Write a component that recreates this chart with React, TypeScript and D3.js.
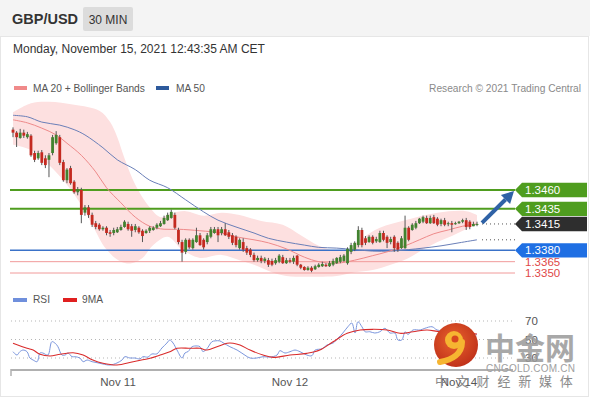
import React from 'react';
import * as d3 from 'd3';

// ---------- DATA ----------
const OPEN = [1.3540,1.3536,1.3529,1.3536,1.3530,1.3532,1.3509,1.3502,1.3510,1.3502,
1.3500,1.3509,1.3522,1.3530,1.3497,1.3473,1.3489,1.3471,1.3457,1.3460,
1.3430,1.3437,1.3427,1.3416,1.3414,1.3408,1.3410,1.3404,1.3403,1.3404,
1.3407,1.3411,1.3415,1.3412,1.3407,1.3410,1.3406,1.3403,1.3406,1.3407,
1.3410,1.3412,1.3415,1.3420,1.3423,1.3427,1.3407,1.3391,1.3378,1.3394,
1.3383,1.3391,1.3400,1.3394,1.3391,1.3398,1.3403,1.3408,1.3403,1.3408,
1.3404,1.3400,1.3398,1.3383,1.3391,1.3383,1.3381,1.3374,1.3367,1.3370,
1.3366,1.3367,1.3366,1.3363,1.3365,1.3371,1.3363,1.3367,1.3365,1.3373,
1.3361,1.3358,1.3354,1.3357,1.3355,1.3358,1.3359,1.3361,1.3359,1.3361,
1.3363,1.3365,1.3366,1.3363,1.3378,1.3381,1.3387,1.3407,1.3396,1.3391,
1.3398,1.3392,1.3391,1.3403,1.3398,1.3391,1.3398,1.3390,1.3383,1.3383,
1.3410,1.3407,1.3410,1.3416,1.3418,1.3423,1.3416,1.3424,1.3422,1.3415,
1.3420,1.3415,1.3416,1.3415,1.3416,1.3418,1.3420,1.3418,1.3412,1.3414];
const HIGH = [1.3543,1.3538,1.3541,1.3540,1.3537,1.3534,1.3512,1.3512,1.3513,1.3506,
1.3509,1.3533,1.3538,1.3533,1.3500,1.3489,1.3492,1.3473,1.3464,1.3463,
1.3440,1.3440,1.3430,1.3419,1.3416,1.3412,1.3412,1.3407,1.3410,1.3411,
1.3414,1.3420,1.3418,1.3415,1.3415,1.3412,1.3408,1.3408,1.3412,1.3412,
1.3416,1.3419,1.3426,1.3430,1.3434,1.3430,1.3410,1.3394,1.3396,1.3396,
1.3396,1.3410,1.3403,1.3396,1.3403,1.3411,1.3411,1.3411,1.3411,1.3416,
1.3407,1.3403,1.3400,1.3396,1.3396,1.3386,1.3383,1.3377,1.3373,1.3373,
1.3371,1.3370,1.3369,1.3370,1.3375,1.3374,1.3370,1.3370,1.3373,1.3374,
1.3362,1.3359,1.3359,1.3359,1.3361,1.3363,1.3365,1.3363,1.3366,1.3369,
1.3371,1.3374,1.3375,1.3384,1.3390,1.3392,1.3412,1.3410,1.3399,1.3400,
1.3400,1.3398,1.3406,1.3406,1.3400,1.3398,1.3400,1.3392,1.3399,1.3426,
1.3412,1.3416,1.3419,1.3423,1.3426,1.3426,1.3426,1.3427,1.3424,1.3422,
1.3423,1.3418,1.3419,1.3418,1.3419,1.3422,1.3423,1.3420,1.3418,1.3418];
const LOW = [1.3530,1.3517,1.3528,1.3529,1.3528,1.3504,1.3497,1.3500,1.3493,1.3489,
1.3477,1.3506,1.3520,1.3493,1.3471,1.3469,1.3467,1.3455,1.3453,1.3416,
1.3426,1.3423,1.3411,1.3408,1.3406,1.3406,1.3400,1.3398,1.3400,1.3403,
1.3406,1.3410,1.3406,1.3398,1.3404,1.3402,1.3391,1.3402,1.3403,1.3406,
1.3408,1.3411,1.3414,1.3419,1.3422,1.3408,1.3388,1.3365,1.3375,1.3382,
1.3381,1.3390,1.3386,1.3381,1.3388,1.3396,1.3402,1.3391,1.3400,1.3399,
1.3395,1.3387,1.3384,1.3381,1.3378,1.3374,1.3371,1.3365,1.3365,1.3363,
1.3363,1.3358,1.3359,1.3361,1.3363,1.3362,1.3362,1.3363,1.3362,1.3359,
1.3355,1.3353,1.3353,1.3351,1.3354,1.3357,1.3358,1.3358,1.3358,1.3359,
1.3362,1.3363,1.3365,1.3361,1.3375,1.3379,1.3384,1.3384,1.3387,1.3390,
1.3388,1.3390,1.3390,1.3392,1.3383,1.3388,1.3378,1.3378,1.3382,1.3382,
1.3392,1.3406,1.3408,1.3415,1.3416,1.3415,1.3415,1.3415,1.3412,1.3412,
1.3412,1.3412,1.3404,1.3414,1.3415,1.3416,1.3407,1.3408,1.3412,1.3412];
const CLOSE = [1.3536,1.3530,1.3536,1.3532,1.3534,1.3506,1.3500,1.3509,1.3496,1.3493,
1.3506,1.3530,1.3533,1.3496,1.3473,1.3487,1.3469,1.3457,1.3461,1.3427,
1.3437,1.3427,1.3414,1.3411,1.3408,1.3410,1.3403,1.3402,1.3407,1.3408,
1.3411,1.3418,1.3408,1.3406,1.3412,1.3404,1.3399,1.3406,1.3410,1.3410,
1.3414,1.3416,1.3423,1.3427,1.3431,1.3410,1.3391,1.3377,1.3394,1.3384,
1.3394,1.3400,1.3387,1.3384,1.3400,1.3408,1.3408,1.3400,1.3408,1.3400,
1.3398,1.3390,1.3387,1.3394,1.3381,1.3377,1.3374,1.3367,1.3370,1.3366,
1.3369,1.3361,1.3361,1.3367,1.3373,1.3363,1.3367,1.3365,1.3370,1.3361,
1.3357,1.3354,1.3357,1.3353,1.3359,1.3361,1.3362,1.3359,1.3363,1.3366,
1.3370,1.3371,1.3373,1.3382,1.3387,1.3390,1.3407,1.3387,1.3390,1.3398,
1.3390,1.3395,1.3403,1.3394,1.3390,1.3395,1.3383,1.3381,1.3396,1.3410,
1.3394,1.3414,1.3416,1.3422,1.3424,1.3416,1.3423,1.3416,1.3414,1.3420,
1.3414,1.3416,1.3414,1.3416,1.3418,1.3420,1.3411,1.3411,1.3415,1.3415];

const MA20_IDX = [0,4,8,12,15,19,23,26,30,34,38,42,46,52,58,62,67,71,76,81,85,90,95,100,104,109,113,117,121,125,129];
const MA20 = [1.3553,1.3549,1.3542,1.3533,1.3522,1.3506,1.3484,1.3463,1.3443,1.3424,1.3412,1.3408,1.3408,1.3406,1.3403,1.3398,1.3394,1.3390,1.3382,1.3371,1.3365,1.3363,1.3367,1.3373,1.3378,1.3386,1.3394,1.3402,1.3407,1.3412,1.3415];

const BB_UP_IDX = [0,5,10,17,24,27,29,31,34,38,41,44,48,53,58,63,69,75,80,85,90,93,97,102,109,118,126,129];
const BB_UP = [1.3563,1.3575,1.3577,1.3573,1.3565,1.3550,1.3530,1.3502,1.3467,1.3437,1.3424,1.3429,1.3432,1.3426,1.3430,1.3427,1.3419,1.3414,1.3400,1.3386,1.3379,1.3381,1.3396,1.3410,1.3420,1.3430,1.3432,1.3427];
const BB_LO_IDX = [0,5,10,15,19,22,26,30,33,36,39,43,47,52,58,63,67,72,76,81,85,90,95,100,105,110,114,118,122,126,129];
const BB_LO = [1.3520,1.3513,1.3493,1.3467,1.3440,1.3414,1.3381,1.3365,1.3363,1.3370,1.3387,1.3398,1.3381,1.3370,1.3374,1.3367,1.3361,1.3351,1.3346,1.3345,1.3345,1.3346,1.3351,1.3354,1.3361,1.3370,1.3381,1.3391,1.3399,1.3408,1.3414];

const MA50_IDX = [0,4,8,13,17,20,25,29,34,38,43,48,53,57,62,67,71,76,81,85,90,95,100,105,110,114,119,124,129];
const MA50 = [1.3559,1.3557,1.3550,1.3546,1.3540,1.3533,1.3516,1.3500,1.3487,1.3473,1.3463,1.3447,1.3431,1.3420,1.3411,1.3403,1.3396,1.3391,1.3387,1.3384,1.3383,1.3381,1.3379,1.3379,1.3381,1.3383,1.3386,1.3390,1.3394];

const RSI_IDX = [0,1.1,1.9,2.8,3.9,4.7,5.6,6.7,7.5,8.3,9.7,10.8,11.7,12.5,13.6,14.5,15.3,16.4,17.2,18.6,19.5,20.6,22,23.4,25,27,28.9,30.3,31.1,32.5,33.9,35.3,36.1,37.5,38.6,40,41.4,42.8,43.6,44.5,45.6,47,47.8,48.7,49.8,51.2,52,52.8,53.9,55.3,56.2,57.5,58.4,60.3,62.3,64.5,65.9,67.8,69.5,71.4,73.4,74.2,75.6,77,78.4,79.8,81.7,83.1,84,85.9,87.3,89,90.4,91.7,93.1,94.2,95.1,95.9,97,97.9,99.2,100.6,102,103.4,104.8,106.2,107,108.1,109,109.8,111.2,113.2,114.5,116.5,117.9,121,124.3,127,129];
const RSI = [36.8,33.2,36.8,38.6,36.8,30,27.8,26,35.4,35.4,33.2,47.6,46,42.2,33.2,33.2,35.4,31.4,31.4,30,26,27.8,26,24.9,23.5,22.4,24.6,27.8,31.4,30,30,29,31.4,31,34.3,34.5,40.8,46.2,49.5,46.2,38.6,30,35.4,37,42.2,43,42.2,37,40,47.6,48.5,48.5,46.5,42.2,38.6,33,30,30,31.4,31,33.2,37.9,35.4,36.8,38.6,36.8,33.2,32.5,38.6,40,44.1,46.2,51.6,57,63.8,67.8,57,69.2,63.8,58.4,58.4,57,58.4,62.1,57,57,49.5,49.5,58.4,55.5,60.3,60.3,62.1,63.8,60.3,59,57,56,55];
const RSI_MA_IDX = [0,3.9,5.6,7.5,10.3,13.1,16.7,19.5,22.2,25,28.9,33.4,38.1,40.9,43.6,45.6,49.2,52,53.9,56.7,59.5,61.2,63.1,65.9,69.5,72.3,77,81.7,85.3,89,92.9,96.5,100.1,104,107.6,111.2,115.1,118.7,123.4,129];
const RSI_MA = [45.9,40.5,38.6,34,32.2,34,35.7,33.2,27.8,24.3,22.4,26,29.7,33.2,36.8,40.5,40.5,40.5,38.6,42.2,45.9,45.9,44,38.6,33.2,30.7,33.2,35,38.6,47.6,56.7,60.3,61,60.3,56.7,58.4,60.3,58.4,58,56];

const RES_LEVELS = [1.3460, 1.3435];
const PIVOT_LEVEL = 1.3380;
const SUP_LEVELS = [1.3365, 1.3350];
const LAST_PRICE = 1.3415;
const RSI_LEVELS = [70, 50, 30];
const X_TICK_LABELS = ['Nov 11', 'Nov 12', 'Nov 14'];
const X_TICK_IDX = [29.2, 77, 124];

// ---------- STYLE ----------
const SANS = "'Liberation Sans', Arial, Helvetica, sans-serif";
const GREEN = '#4f9d1f';
const BLUE_LVL = '#1f6fe3';
const RED_LVL = '#e04848';

export default function App() {
  const n = CLOSE.length;
  const x = d3.scaleLinear().domain([0, n - 1]).range([13, 477]);
  const y = d3.scaleLinear().domain([1.3350, 1.3460]).range([273, 190]);
  const yr = d3.scaleLinear().domain([30, 70]).range([358, 321]);
  const L0 = 10, L1 = 515, TAGR = 587;

  const lineOf = (idx: number[], vals: number[], sc: (v: number) => number) =>
    d3.line<number>().x((_, i) => x(idx[i])).y((v) => sc(v)).curve(d3.curveCatmullRom.alpha(0.5))(vals) || '';

  const upPath = lineOf(BB_UP_IDX, BB_UP, y);
  const loRevIdx = [...BB_LO_IDX].reverse();
  const loRev = [...BB_LO].reverse();
  const loPath = lineOf(loRevIdx, loRev, y);
  const bandPath = upPath + 'L' + loPath.slice(1) + 'Z';

  const bw = 2.8;
  const tag = (v: number, fill: string, label: string, key: string) => {
    const yc = y(v);
    const h = 7.2;
    const p = `M${L1},${yc} L${L1 + 7},${yc - h} L${TAGR},${yc - h} L${TAGR},${yc + h} L${L1 + 7},${yc + h} Z`;
    return (
      <g key={key}>
        <path d={p} fill={fill} />
        <text x={L1 + 10} y={yc + 4} fill="#fff" fontSize={11.5} fontFamily={SANS}>{label}</text>
      </g>
    );
  };

  const lastX = x(n - 1) + 5;
  const ax0 = lastX, ay0 = y(LAST_PRICE) - 1;
  const ax1 = L1 - 1, ay1 = y(RES_LEVELS[0]) + 1;
  const dx = ax1 - ax0, dy = ay1 - ay0;
  const len = Math.hypot(dx, dy);
  const ux = dx / len, uy = dy / len;
  const hl = 12, hw = 6.5;
  const bx = ax1 - ux * hl, by = ay1 - uy * hl;
  const head = `M${ax1},${ay1} L${bx - uy * hw},${by + ux * hw} L${bx + uy * hw},${by - ux * hw} Z`;

  const leg = { fontSize: 10.2, fill: '#555', fontFamily: SANS };

  return (
    <svg width={590} height={400} style={{ position: 'absolute', left: 0, top: 0, background: '#fff' }}>
      {/* header */}
      <rect x={0} y={0} width={590} height={36} fill="#f4f4f4" />
      <text x={12} y={24} fontSize={14.5} fontWeight="bold" fill="#333" fontFamily={SANS}>GBP/USD</text>
      <rect x={83} y={7} width={50} height={24} rx={2} fill="#dcdcdc" />
      <text x={108} y={23.5} fontSize={12} fill="#333" textAnchor="middle" fontFamily={SANS}>30 MIN</text>
      <rect x={0.5} y={36.5} width={588} height={360} fill="#fff" stroke="#e6e6e6" />
      <text x={13} y={53} fontSize={12} fill="#333" fontFamily={SANS}>Monday, November 15, 2021 12:43:35 AM CET</text>

      {/* legend */}
      <rect x={14} y={86} width={13} height={4} fill="#f08a8a" />
      <text x={33} y={92} {...leg}>MA 20 + Bollinger Bands</text>
      <rect x={156} y={86} width={13} height={4} fill="#2e5a9c" />
      <text x={176} y={92} {...leg}>MA 50</text>
      <text x={581} y={92} {...leg} fill="#8a8a8a" textAnchor="end">Research © 2021 Trading Central</text>

      {/* bollinger band */}
      <path d={bandPath} fill="#fde0e0" />

      {/* level lines */}
      {RES_LEVELS.map((v, i) => (
        <line key={'r' + i} x1={L0} x2={L1} y1={y(v)} y2={y(v)} stroke={GREEN} strokeWidth={2} />
      ))}
      <line x1={L0} x2={L1} y1={y(PIVOT_LEVEL)} y2={y(PIVOT_LEVEL)} stroke="#3a72c8" strokeWidth={1.5} />
      {SUP_LEVELS.map((v, i) => (
        <line key={'s' + i} x1={L0} x2={L1} y1={y(v)} y2={y(v)} stroke="#f19a9a" strokeWidth={1} />
      ))}

      {/* moving averages */}
      <path d={lineOf(MA50_IDX, MA50, y)} fill="none" stroke="#6a7fb8" strokeWidth={1} />
      <path d={lineOf(MA20_IDX, MA20, y)} fill="none" stroke="#ee8a8a" strokeWidth={1} />

      {/* candles */}
      {CLOSE.map((c, i) => {
        const o = OPEN[i];
        const up = c >= o;
        const col = up ? '#42822f' : '#c42a20';
        const top = y(Math.max(o, c));
        const bh = Math.max(1, Math.abs(y(o) - y(c)));
        return (
          <g key={'c' + i}>
            <line x1={x(i)} x2={x(i)} y1={y(HIGH[i])} y2={y(LOW[i])} stroke="#555" strokeWidth={1} />
            <rect x={x(i) - bw / 2} y={top} width={bw} height={bh} fill={col} />
          </g>
        );
      })}

      {/* dotted extensions */}
      <line x1={lastX} x2={L1} y1={y(LAST_PRICE)} y2={y(LAST_PRICE)} stroke="#555" strokeDasharray="1,3" />
      <line x1={lastX} x2={L1} y1={y(MA50[MA50.length - 1])} y2={y(MA50[MA50.length - 1])} stroke="#555" strokeDasharray="1,3" />

      {/* arrow */}
      <line x1={ax0} y1={ay0} x2={bx} y2={by} stroke="#2f62a6" strokeWidth={4} />
      <path d={head} fill="#2f62a6" />

      {/* tags */}
      {tag(RES_LEVELS[0], GREEN, RES_LEVELS[0].toFixed(4), 't0')}
      {tag(RES_LEVELS[1], GREEN, RES_LEVELS[1].toFixed(4), 't1')}
      {tag(LAST_PRICE, '#2e2e2e', LAST_PRICE.toFixed(4), 't2')}
      {tag(PIVOT_LEVEL, BLUE_LVL, PIVOT_LEVEL.toFixed(4), 't3')}
      {SUP_LEVELS.map((v, i) => (
        <text key={'sl' + i} x={L1 + 10} y={y(v) + 4} fill={RED_LVL} fontSize={11.5} fontFamily={SANS}>{v.toFixed(4)}</text>
      ))}

      {/* RSI panel */}
      <rect x={13} y={298} width={14} height={4} fill="#6f8fdc" />
      <text x={33} y={303} {...leg}>RSI</text>
      <rect x={63} y={298} width={14} height={4} fill="#e02020" />
      <text x={82} y={303} {...leg}>9MA</text>
      {RSI_LEVELS.map((v) => (
        <g key={'rl' + v}>
          <line x1={11} x2={513} y1={yr(v)} y2={yr(v)} stroke="#b5b5b5" strokeDasharray="1,3" />
          <text x={525} y={yr(v) + 4} fontSize={11.5} fill="#555" fontFamily={SANS}>{v}</text>
        </g>
      ))}
      <path d={lineOf(RSI_IDX, RSI, yr)} fill="none" stroke="#7b96dd" strokeWidth={1} />
      <path d={lineOf(RSI_MA_IDX, RSI_MA, yr)} fill="none" stroke="#d92b2b" strokeWidth={1.1} />

      {/* x axis */}
      <line x1={11} x2={513} y1={370} y2={370} stroke="#b0b0b0" strokeWidth={2} />
      <line x1={11} x2={11} y1={369} y2={376} stroke="#b0b0b0" strokeWidth={1.5} />
      {X_TICK_LABELS.map((t, i) => (
        <text key={t} x={x(X_TICK_IDX[i])} y={386} fontSize={11.5} fill="#555" textAnchor="middle" fontFamily={SANS}>{t}</text>
      ))}

      {/* watermark */}
      <g>
        <defs>
          <radialGradient id="wmg" cx="0.45" cy="0.4" r="0.6">
            <stop offset="0" stopColor="#e8622e" />
            <stop offset="1" stopColor="#c1321a" />
          </radialGradient>
        </defs>
        <circle cx={456} cy={345} r={22} fill="url(#wmg)" />
        <circle cx={454} cy={340} r={9} fill="#f6b531" />
        <circle cx={455} cy={339} r={3.5} fill="#d8471f" />
        <path d="M462,342 C462,354 452,360 440,362" fill="none" stroke="#f6b531" strokeWidth={6} strokeLinecap="round" />
        <text x={485} y={359} fontSize={30} fontWeight="bold" fill="#9a9a9a" opacity={0.85} fontFamily="'Noto Sans CJK SC', sans-serif">中金网</text>
        <text x={486} y={372} fontSize={10} fill="#a0a0a0" textLength={89} fontFamily={SANS}>CNGOLD.COM.CN</text>
        <text x={435} y={386} fontSize={13} fill="#8a8a8a" letterSpacing={7.8} fontFamily="'Noto Sans CJK SC', sans-serif">中文财经新媒体</text>
      </g>
    </svg>
  );
}
